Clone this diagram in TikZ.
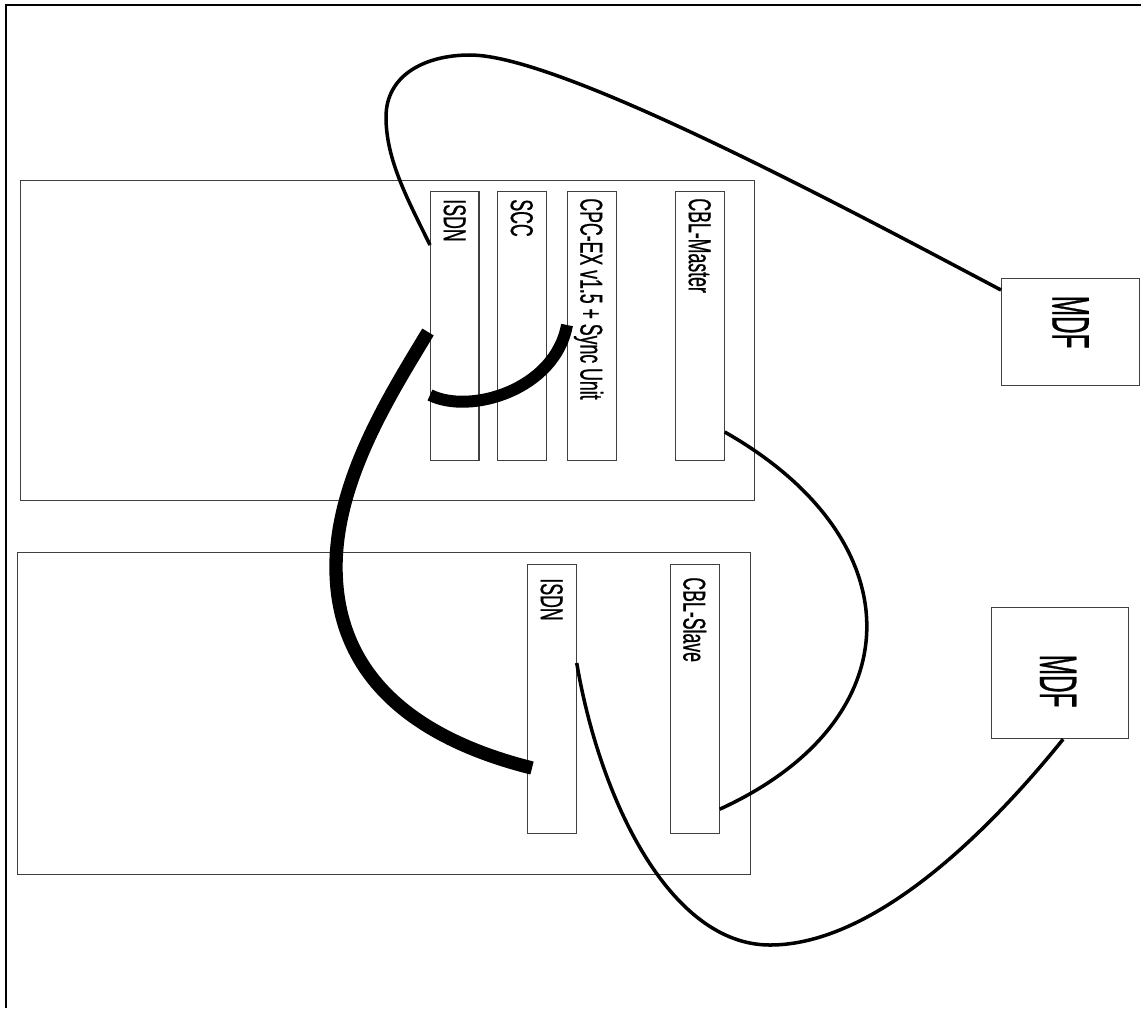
\documentclass[tikz,border=0pt]{standalone}
\usepackage{fontspec}
\newfontfamily\slotfont[FakeStretch=0.56,FakeBold=0.6]{Liberation Sans}
\newfontfamily\mdffont[FakeStretch=0.46,FakeBold=0.6]{Liberation Sans}
\usetikzlibrary{calc}

\begin{document}
\begin{tikzpicture}[x=0.02cm, y=-0.02cm,
  frame/.style={line width=1.3pt, black},
  box/.style={draw=black!75, line width=0.7pt, anchor=north west, inner sep=0pt},
  slot/.style={box, minimum width=0.97cm, minimum height=5.38cm},
  slotlabel/.style={rotate=-90, anchor=west, inner sep=0pt, text depth=0pt,
                    font=\slotfont\fontsize{18}{18}\selectfont},
  mdflabel/.style={rotate=-90, inner sep=0pt, text depth=0pt,
                   font=\mdffont\fontsize{30}{30}\selectfont},
  cable/.style={line width=2pt, black},
  trunk/.style={line width=7.6pt, black}]
  % 1. Page frame (pixel units, y runs downwards)
  \useasboundingbox (0,0) rectangle (1141,1008);
  \draw[frame] (6,1008) -- (6,5) -- (1141,5);

  % 2. Racks and MDFs
  \node[box, minimum width=14.68cm, minimum height=6.4cm]  (rackA) at (20,180) {};
  \node[box, minimum width=14.66cm, minimum height=6.44cm] (rackB) at (17,552) {};
  \node[box, minimum width=2.76cm, minimum height=2.14cm]  (mdfA)  at (1001,278) {};
  \node[box, minimum width=2.74cm, minimum height=2.62cm]  (mdfB)  at (991,607) {};
  \node[mdflabel] (mdfAtxt) at ($(mdfA.center)+(0,-10)$) {MDF};
  \node[mdflabel] (mdfBtxt) at ($(mdfB.center)+(-2,8)$) {MDF};

  % 3. Cards in the upper rack
  \node[slot] (isdnA) at (430,191) {};
  \node[slot] (scc)   at (497,191) {};
  \node[slot] (cpc)   at (567,191) {};
  \node[slot] (cblM)  at (675,191) {};
  \node[slotlabel] (isdnAtxt) at ($(isdnA.north)+(0,8)$) {ISDN};
  \node[slotlabel] (scctxt)   at ($(scc.north)+(0,8)$)   {SCC};
  \node[slotlabel] (cpctxt)   at ($(cpc.north)+(0,7)$)   {CPC-EX v1.5 + Sync Unit};
  \node[slotlabel] (cblMtxt)  at ($(cblM.north)+(0,7)$)  {CBL-Master};

  % 4. Cards in the lower rack
  \node[slot] (isdnB) at (527,564) {};
  \node[slot] (cblS)  at (670,564) {};
  \node[slotlabel] (isdnBtxt) at ($(isdnB.north)+(0,14)$) {ISDN};
  \node[slotlabel] (cblStxt)  at ($(cblS.north)+(0,13)$)  {CBL-Slave};

  % 5. Cables
  \draw[cable] ($(isdnA.north west)+(0,54)$)
    .. controls (408,200) and (386,160) .. (386,117)
    .. controls (386,75) and (425,55) .. (470,55)
    .. controls (560,55) and (840,205) .. ($(mdfA.north west)+(0,12)$);
  \draw[cable] ($(cblM.north east)+(0,241)$)
    .. controls (915,540) and (915,720) .. ($(cblS.south east)+(0,-25)$);
  \draw[cable] ($(isdnB.north east)+(0,99)$)
    .. controls (600,800) and (670,945) .. (770,945)
    .. controls (875,945) and (990,830) .. ($(mdfB.south)+(3,0)$);
  \draw[trunk] ($(isdnA.north west)+(-2,141)$)
    .. controls (390,395) and (336,480) .. (336,567)
    .. controls (336,680) and (420,740) .. ($(isdnB.north west)+(5,204)$);
  \draw[trunk, line width=6.8pt] ($(isdnA.north west)+(0,204)$)
    .. controls (470,415) and (555,390) .. ($(cpc.north west)+(0,134)$);
\end{tikzpicture}
\end{document}
